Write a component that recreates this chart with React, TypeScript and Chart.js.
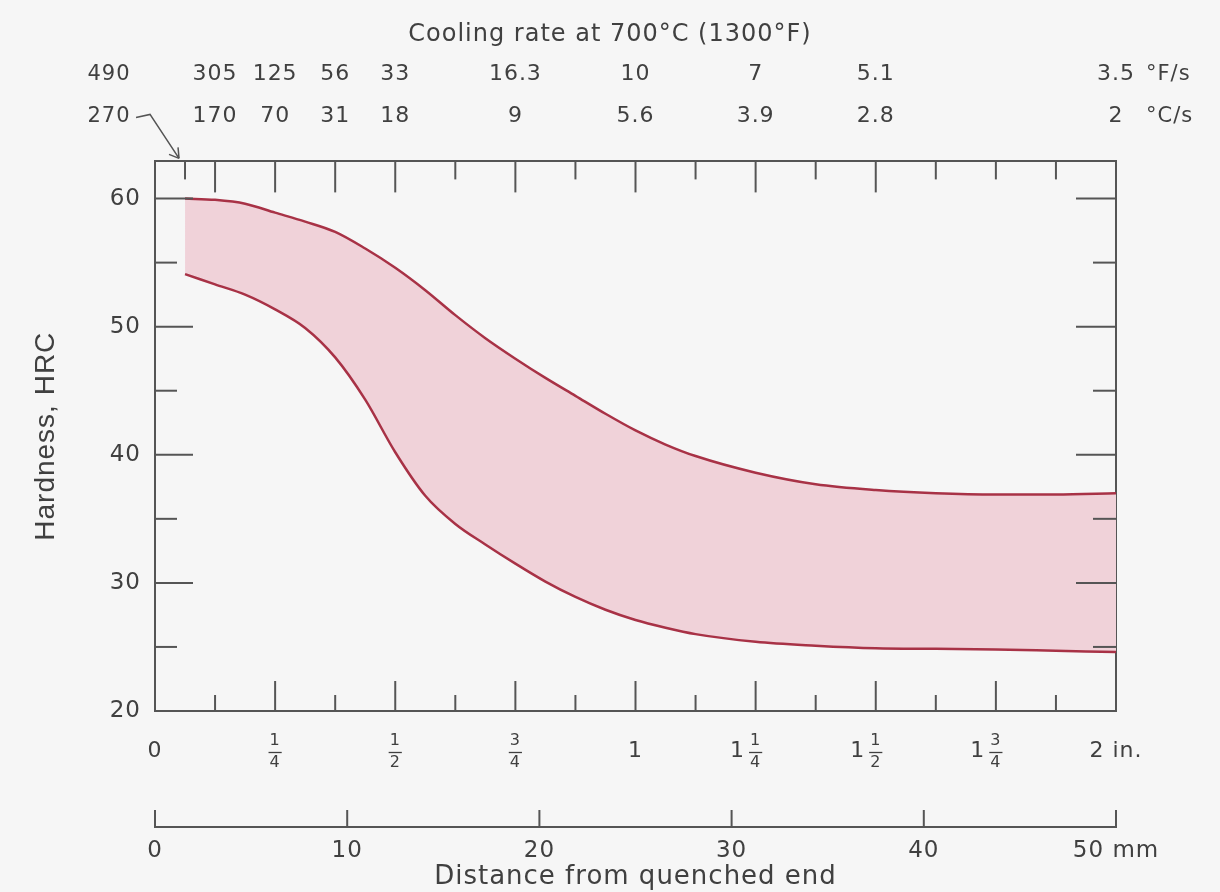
import React, { useEffect, useRef } from 'react';
import { Chart, registerables } from 'chart.js';

Chart.register(...registerables);

// Distance from quenched end (inches) and hardness band limits (HRC)
const DIST_IN = [0.0625, 0.125, 0.1875, 0.25, 0.3125, 0.375, 0.4375, 0.5, 0.5625, 0.625, 0.6875, 0.75, 0.8125, 0.875, 0.9375, 1.0, 1.0625, 1.125, 1.25, 1.375, 1.5, 1.625, 1.75, 1.875, 2.0];
const HRC_UPPER = [60.0, 59.9, 59.6, 58.9, 58.2, 57.4, 56.1, 54.6, 52.85, 50.9, 49.1, 47.5, 46.0, 44.6, 43.2, 41.9, 40.8, 39.9, 38.6, 37.7, 37.25, 37.0, 36.9, 36.9, 37.0];
const HRC_LOWER = [54.1, 53.3, 52.5, 51.35, 49.9, 47.6, 44.3, 40.2, 36.8, 34.6, 33.0, 31.5, 30.1, 28.9, 27.9, 27.1, 26.5, 26.0, 25.4, 25.1, 24.9, 24.85, 24.8, 24.7, 24.6];

// Axis ticks and labels
const Y_TICKS = [20, 25, 30, 35, 40, 45, 50, 55, 60];
const IN_TICKS = [0, 0.125, 0.25, 0.375, 0.5, 0.625, 0.75, 0.875, 1, 1.125, 1.25, 1.375, 1.5, 1.625, 1.75, 1.875, 2];
const IN_LABEL_POS = [0, 0.25, 0.5, 0.75, 1, 1.25, 1.5, 1.75, 2];
const IN_LABELS = ['0', '1/4', '1/2', '3/4', '1', '1 1/4', '1 1/2', '1 3/4', '2 in.'];
const MM_TICKS = [0, 10, 20, 30, 40, 50];
const MM_LABELS = ['0', '10', '20', '30', '40', '50 mm'];
const COOL_POS = [0.0625, 0.125, 0.25, 0.375, 0.5, 0.75, 1, 1.25, 1.5, 2];
const COOL_F = ['490', '305', '125', '56', '33', '16.3', '10', '7', '5.1', '3.5'];
const COOL_C = ['270', '170', '70', '31', '18', '9', '5.6', '3.9', '2.8', '2'];
const TOP_TICK_POS = [0.0625, 0.125, 0.25, 0.375, 0.5, 0.625, 0.75, 0.875, 1, 1.125, 1.25, 1.375, 1.5, 1.625, 1.75, 1.875];
const TOP_TICK_LONG = [false, true, true, true, true, false, true, false, true, false, true, false, true, false, false, false];

const FONT = "'DejaVu Sans', 'Liberation Sans', sans-serif";
const TITLE_FONT = "'Liberation Sans', Arial, sans-serif";
const TEXT = '#404040';
const AXIS = '#555555';
const LINE = '#a83246';
const FILL = '#f0d2d9';
const BG = '#f6f6f6';

const decorPlugin = {
  id: 'decor',
  afterDraw(chart: any) {
    const ctx = chart.ctx as CanvasRenderingContext2D;
    const { x, y, xmm, xC, xF } = chart.scales;
    const ca = chart.chartArea;
    const seg = (x1: number, y1: number, x2: number, y2: number) => {
      ctx.beginPath();
      ctx.moveTo(x1, y1);
      ctx.lineTo(x2, y2);
      ctx.stroke();
    };
    ctx.save();
    ctx.strokeStyle = AXIS;
    ctx.lineWidth = 2;
    ctx.lineCap = 'butt';
    // inward ticks on y axes
    Y_TICKS.forEach((v) => {
      if (v === 20) return;
      const py = y.getPixelForValue(v);
      const major = v % 10 === 0;
      seg(ca.left, py, ca.left + (major ? 38 : 22), py);
      seg(ca.right, py, ca.right - (major ? 40 : 23), py);
    });
    // inward ticks on bottom inch axis
    IN_TICKS.forEach((v) => {
      if (v <= 0 || v >= 2) return;
      const px = x.getPixelForValue(v);
      const major = Math.abs(v * 4 - Math.round(v * 4)) < 1e-6;
      seg(px, ca.bottom, px, ca.bottom - (major ? 30 : 16));
    });
    // inward ticks on top axis
    TOP_TICK_POS.forEach((v, i) => {
      const px = xC.getPixelForValue(v);
      seg(px, ca.top, px, ca.top + (TOP_TICK_LONG[i] ? 31 : 18));
    });
    // upward ticks on mm axis
    MM_TICKS.forEach((v) => {
      const px = xmm.getPixelForValue(v);
      seg(px, xmm.top + 1, px, xmm.top - 17);
    });

    // inch labels with stacked fractions
    ctx.fillStyle = TEXT;
    ctx.textBaseline = 'middle';
    const yc = ca.bottom + 40;
    IN_LABEL_POS.forEach((v, i) => {
      const label = IN_LABELS[i];
      const px = x.getPixelForValue(v);
      const m = label.match(/^(?:(\d+) )?(\d+)\/(\d+)$/);
      if (!m) {
        ctx.font = `22px ${FONT}`;
        ctx.textAlign = 'center';
        ctx.fillText(label, px, yc);
        return;
      }
      const whole = m[1];
      ctx.font = `16px ${FONT}`;
      ctx.textAlign = 'center';
      const fw = Math.max(ctx.measureText(m[2]).width, ctx.measureText(m[3]).width) + 2;
      ctx.fillText(m[2], px, yc - 10);
      ctx.fillText(m[3], px, yc + 12);
      ctx.lineWidth = 1.3;
      ctx.strokeStyle = TEXT;
      seg(px - fw / 2, yc + 1.5, px + fw / 2, yc + 1.5);
      if (whole) {
        ctx.font = `22px ${FONT}`;
        ctx.textAlign = 'right';
        ctx.fillText(whole, px - fw / 2 - 4, yc);
      }
    });

    // first cooling-rate labels with arrow, and units
    const p0 = xC.getPixelForValue(COOL_POS[0]);
    const yF = xF.bottom - 27;
    const yCc = xC.bottom - 45;
    ctx.font = `21px ${FONT}`;
    ctx.textAlign = 'center';
    ctx.fillText(COOL_F[0], p0 - 76, yF);
    ctx.fillText(COOL_C[0], p0 - 76, yCc);
    const pEnd = xC.getPixelForValue(2);
    ctx.textAlign = 'left';
    ctx.fillText('°F/s', pEnd + 30, yF);
    ctx.fillText('°C/s', pEnd + 30, yCc);
    // arrow
    ctx.strokeStyle = '#555';
    ctx.lineWidth = 1.5;
    ctx.beginPath();
    ctx.moveTo(p0 - 49, yCc + 1);
    ctx.lineTo(p0 - 35, yCc - 2);
    ctx.lineTo(p0 - 6, ca.top - 3);
    ctx.stroke();
    ctx.beginPath();
    ctx.moveTo(p0 - 6, ca.top - 3);
    ctx.lineTo(p0 - 16, ca.top - 7);
    ctx.moveTo(p0 - 6, ca.top - 3);
    ctx.lineTo(p0 - 7, ca.top - 14);
    ctx.stroke();
    ctx.restore();
  },
};

const bgPlugin = {
  id: 'bg',
  beforeDraw(chart: any) {
    const ctx = chart.ctx;
    ctx.fillStyle = BG;
    ctx.fillRect(0, 0, chart.width, chart.height);
    // the original lettering is slightly spaced out
    ctx.letterSpacing = '1px';
  },
};

export default function App() {
  const ref = useRef<HTMLCanvasElement | null>(null);
  useEffect(() => {
    if (!ref.current) return;
    const setTicks = (vals: number[]) => (s: any) => {
      s.ticks = vals.map((v) => ({ value: v }));
    };
    const noGrid = { display: false, drawTicks: false };
    const border = { display: true, color: AXIS, width: 2 };
    const chart = new Chart(ref.current, {
      type: 'line',
      data: {
        datasets: [
          {
            label: 'Maximum hardness',
            data: DIST_IN.map((d, i) => ({ x: d, y: HRC_UPPER[i] })),
            borderColor: LINE,
            borderWidth: 2.5,
            backgroundColor: FILL,
            fill: '+1',
            pointRadius: 0,
            cubicInterpolationMode: 'monotone',
          },
          {
            label: 'Minimum hardness',
            data: DIST_IN.map((d, i) => ({ x: d, y: HRC_LOWER[i] })),
            borderColor: LINE,
            borderWidth: 2.5,
            fill: false,
            pointRadius: 0,
            cubicInterpolationMode: 'monotone',
          },
        ],
      },
      options: {
        animation: false,
        responsive: true,
        maintainAspectRatio: false,
        layout: { padding: 0 },
        plugins: {
          legend: { display: false },
          tooltip: { enabled: false },
          filler: { drawTime: 'beforeDatasetsDraw' },
          title: {
            display: true,
            text: 'Cooling rate at 700°C (1300°F)',
            color: TEXT,
            font: { family: FONT, size: 24, weight: 'normal' },
            padding: { top: 20, bottom: 0 },
          },
        },
        scales: {
          y: {
            type: 'linear',
            position: 'left',
            min: 20,
            max: 62.9,
            afterBuildTicks: setTicks(Y_TICKS),
            afterFit: (s: any) => { s.width = 155; },
            grid: noGrid,
            border,
            ticks: {
              callback: (v: any) => (Number(v) % 10 === 0 ? String(v) : ''),
              padding: 14,
              color: TEXT,
              font: { family: FONT, size: 23 },
            },
            title: {
              display: true,
              text: 'Hardness, HRC',
              color: TEXT,
              font: { family: TITLE_FONT, size: 28 },
              padding: { top: 29, bottom: 0 },
            },
          },
          y2: {
            type: 'linear',
            position: 'right',
            min: 20,
            max: 62.9,
            afterBuildTicks: setTicks(Y_TICKS),
            afterFit: (s: any) => { s.width = 104; },
            grid: noGrid,
            border,
            ticks: { display: false },
          },
          x: {
            type: 'linear',
            position: 'bottom',
            weight: 0,
            min: 0,
            max: 2,
            afterBuildTicks: setTicks(IN_TICKS),
            afterFit: (s: any) => { s.height = 116; },
            grid: noGrid,
            border,
            ticks: { display: false },
          },
          xmm: {
            type: 'linear',
            position: 'bottom',
            weight: 1,
            min: 0,
            max: 50,
            afterBuildTicks: setTicks(MM_TICKS),
            afterFit: (s: any) => { s.height = 65; },
            grid: noGrid,
            border,
            ticks: {
              autoSkip: false,
              maxRotation: 0,
              minRotation: 0,
              padding: 10,
              color: TEXT,
              font: { family: FONT, size: 23 },
              callback: (_v: any, i: number) => MM_LABELS[i],
            },
            title: {
              display: true,
              text: 'Distance from quenched end',
              color: TEXT,
              font: { family: FONT, size: 26 },
              padding: { top: 0, bottom: -1 },
            },
          },
          xC: {
            type: 'linear',
            position: 'top',
            weight: 0,
            min: 0,
            max: 2,
            afterBuildTicks: setTicks(COOL_POS),
            afterFit: (s: any) => { s.height = 60; },
            grid: noGrid,
            border,
            ticks: {
              autoSkip: false,
              maxRotation: 0,
              minRotation: 0,
              padding: 32,
              color: TEXT,
              font: { family: FONT, size: 22 },
              callback: (_v: any, i: number) => (i === 0 ? '' : COOL_C[i]),
            },
          },
          xF: {
            type: 'linear',
            position: 'top',
            weight: 1,
            min: 0,
            max: 2,
            afterBuildTicks: setTicks(COOL_POS),
            afterFit: (s: any) => { s.height = 52.6; },
            grid: noGrid,
            border: { display: false },
            ticks: {
              autoSkip: false,
              maxRotation: 0,
              minRotation: 0,
              padding: 14,
              color: TEXT,
              font: { family: FONT, size: 22 },
              callback: (_v: any, i: number) => (i === 0 ? '' : COOL_F[i]),
            },
          },
        },
      } as any,
      plugins: [bgPlugin, decorPlugin],
    });
    return () => chart.destroy();
  }, []);

  return (
    <div style={{ position: 'absolute', left: 0, top: 0, width: 1220, height: 892, background: BG }}>
      <canvas ref={ref} />
    </div>
  );
}
